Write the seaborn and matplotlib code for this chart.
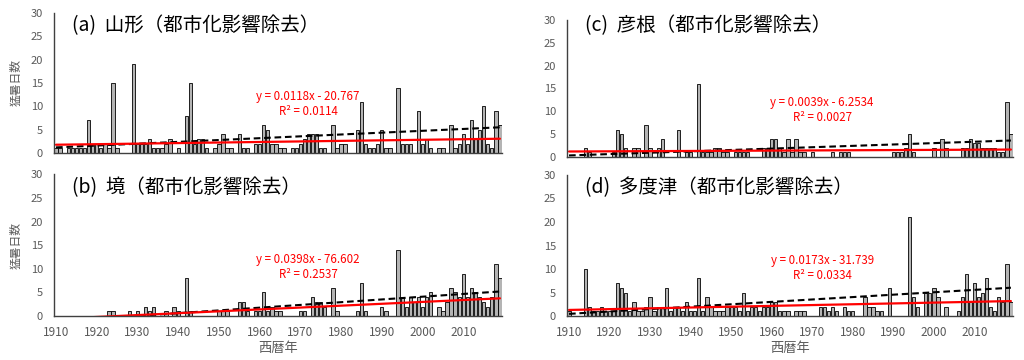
import numpy as np
import pandas as pd
import matplotlib
matplotlib.use("Agg")
import matplotlib.pyplot as plt
import seaborn as sns

# ---------------- data ----------------
years = list(range(1910, 2020))

yamagata = [1, 1, 0, 1, 1, 1, 1, 1, 7, 2,
            2, 1, 2, 1, 15, 1, 0, 0, 0, 19,
            2, 2, 2, 3, 1, 1, 1, 2, 3, 0,
            1, 0, 8, 15, 2, 3, 3, 1, 0, 1,
            2, 4, 1, 1, 0, 4, 1, 1, 0, 2,
            2, 6, 5, 2, 2, 1, 1, 0, 1, 1,
            2, 3, 4, 4, 4, 1, 1, 0, 6, 1,
            2, 2, 0, 0, 5, 11, 2, 1, 1, 2,
            5, 1, 1, 0, 14, 2, 2, 2, 0, 9,
            2, 3, 1, 0, 1, 1, 0, 6, 1, 2,
            4, 2, 7, 3, 5, 10, 2, 1, 9, 6]

sakai = [0, 0, 0, 0, 0, 0, 0, 0, 0, 0,
         0, 0, 0, 1, 1, 0, 0, 0, 1, 0,
         1, 0, 2, 1, 2, 0, 0, 1, 0, 2,
         1, 0, 8, 1, 0, 0, 0, 0, 0, 0,
         1, 1, 1, 0, 0, 3, 3, 1, 0, 1,
         1, 5, 1, 2, 1, 1, 0, 0, 0, 0,
         1, 1, 0, 4, 3, 3, 2, 0, 6, 1,
         0, 0, 0, 0, 1, 7, 1, 0, 0, 0,
         2, 1, 0, 0, 14, 4, 2, 4, 3, 4,
         2, 4, 5, 0, 2, 1, 3, 6, 5, 4,
         9, 4, 6, 5, 4, 3, 2, 4, 11, 8]

hikone = [0, 0, 0, 0, 2, 1, 0, 0, 0, 0,
          0, 1, 6, 5, 2, 0, 2, 2, 0, 7,
          2, 0, 2, 4, 0, 0, 0, 6, 0, 1,
          1, 0, 16, 1, 1, 1, 2, 2, 1, 1,
          0, 1, 1, 1, 1, 0, 0, 0, 2, 2,
          4, 4, 2, 1, 4, 1, 4, 1, 1, 0,
          1, 0, 0, 0, 0, 1, 0, 1, 1, 1,
          0, 0, 0, 0, 0, 0, 0, 0, 0, 0,
          1, 1, 1, 2, 5, 1, 0, 0, 0, 0,
          2, 0, 4, 2, 0, 0, 0, 2, 2, 4,
          3, 3, 2, 2, 2, 2, 1, 1, 12, 5]

tadotsu = [1, 0, 0, 0, 10, 2, 1, 1, 2, 1,
           1, 1, 7, 6, 5, 1, 3, 1, 1, 2,
           4, 1, 2, 2, 6, 1, 2, 2, 1, 3,
           1, 1, 8, 1, 4, 2, 1, 1, 1, 2,
           2, 2, 1, 5, 1, 2, 2, 1, 2, 2,
           3, 3, 1, 1, 1, 0, 1, 1, 1, 0,
           0, 0, 2, 2, 1, 2, 1, 0, 2, 1,
           1, 0, 0, 4, 2, 2, 1, 1, 0, 6,
           0, 0, 0, 0, 21, 4, 2, 0, 5, 5,
           6, 4, 0, 2, 0, 0, 1, 4, 9, 3,
           7, 4, 5, 8, 2, 1, 4, 3, 11, 3]

series = [yamagata, sakai, hikone, tadotsu]
titles = ["(a)  山形（都市化影響除去）", "(b)  境（都市化影響除去）",
          "(c)  彦根（都市化影響除去）", "(d)  多度津（都市化影響除去）"]

trend_slopes = [0.0118, 0.0398, 0.0039, 0.0173]
trend_intercepts = [-20.767, -76.602, -6.2534, -31.739]
trend_labels = ["y = 0.0118x - 20.767", "y = 0.0398x - 76.602",
                "y = 0.0039x - 6.2534", "y = 0.0173x - 31.739"]
r2_labels = ["R² = 0.0114", "R² = 0.2537", "R² = 0.0027", "R² = 0.0334"]

# dashed reference trend
ref_slopes = [0.0395, 0.058, 0.030, 0.051]
ref_at_1910 = [1.2, -1.12, 0.33, 0.47]

yticks = [0, 5, 10, 15, 20, 25, 30]
xticks = [1910, 1920, 1930, 1940, 1950, 1960, 1970, 1980, 1990, 2000, 2010]
ylabel = "猛暑日数"
xlabel = "西暦年"

# ---------------- style ----------------
sns.set_style("white")
plt.rcParams['font.family'] = ['Noto Sans CJK JP', 'DejaVu Sans']

fig = plt.figure(figsize=(10.24, 3.6), dpi=100)

positions = [
    [0.0527, 0.575, 0.4375, 0.389],
    [0.0527, 0.122, 0.4375, 0.394],
    [0.5537, 0.564, 0.4355, 0.381],
    [0.5537, 0.122, 0.4355, 0.392],
]
title_y = [0.985, 0.98, 1.035, 0.985]
text_x = [0.567, 0.567, 0.572, 0.572]
text_y1 = [0.407, 0.401, 0.396, 0.397]
text_y2 = [0.293, 0.296, 0.285, 0.290]

gray = '#595959'
yrs = np.array(years)

for i in range(4):
    ax = fig.add_axes(positions[i])
    df = pd.DataFrame({"year": years, "days": series[i]})
    sns.barplot(data=df, x="year", y="days", native_scale=True, color='#B4B4B4',
                saturation=1, edgecolor='black', linewidth=0.6, width=0.82, ax=ax)
    ref = ref_at_1910[i] + ref_slopes[i] * (yrs - 1910)
    sns.lineplot(x=yrs, y=ref, color='black', linewidth=1.5, ax=ax,
                 linestyle=(0, (3.2, 1.8)))
    trend = trend_slopes[i] * yrs + trend_intercepts[i]
    sns.lineplot(x=yrs, y=trend, color='#FF0000', linewidth=1.6, ax=ax)

    ax.set_xlim(1909.5, 2019.5)
    ax.set_ylim(0, 30)
    ax.set_yticks(yticks)
    ax.set_xticks(xticks)
    ax.tick_params(axis='y', direction='in', length=4, width=1, color='#404040',
                   labelsize=8, labelcolor=gray, pad=8)
    ax.tick_params(axis='x', length=0, labelsize=8.5, labelcolor=gray, pad=7)
    for s in ['top', 'right']:
        ax.spines[s].set_visible(False)
    for s in ['left', 'bottom']:
        ax.spines[s].set_color('#404040')
        ax.spines[s].set_linewidth(1)
    if i in (0, 2):
        ax.set_xticklabels([])
        ax.set_xlabel("")
    else:
        ax.set_xticklabels([str(t) for t in xticks])
        ax.set_xlabel(xlabel, fontsize=9.5, color=gray, labelpad=2)
    if i in (0, 1):
        ax.set_ylabel(ylabel, fontsize=8.5, color=gray, labelpad=6)
    else:
        ax.set_ylabel("")
    ax.text(0.04, title_y[i], titles[i], transform=ax.transAxes, fontsize=14,
            va='top', ha='left', color='black')
    ax.text(text_x[i], text_y1[i], trend_labels[i], transform=ax.transAxes,
            fontsize=8.3, color='#FF0000', ha='center', va='center')
    ax.text(text_x[i], text_y2[i], r2_labels[i], transform=ax.transAxes,
            fontsize=8.3, color='#FF0000', ha='center', va='center')
    leg = ax.get_legend()
    if leg is not None:
        leg.remove()

fig.savefig("out.png", dpi=100, facecolor='white')
